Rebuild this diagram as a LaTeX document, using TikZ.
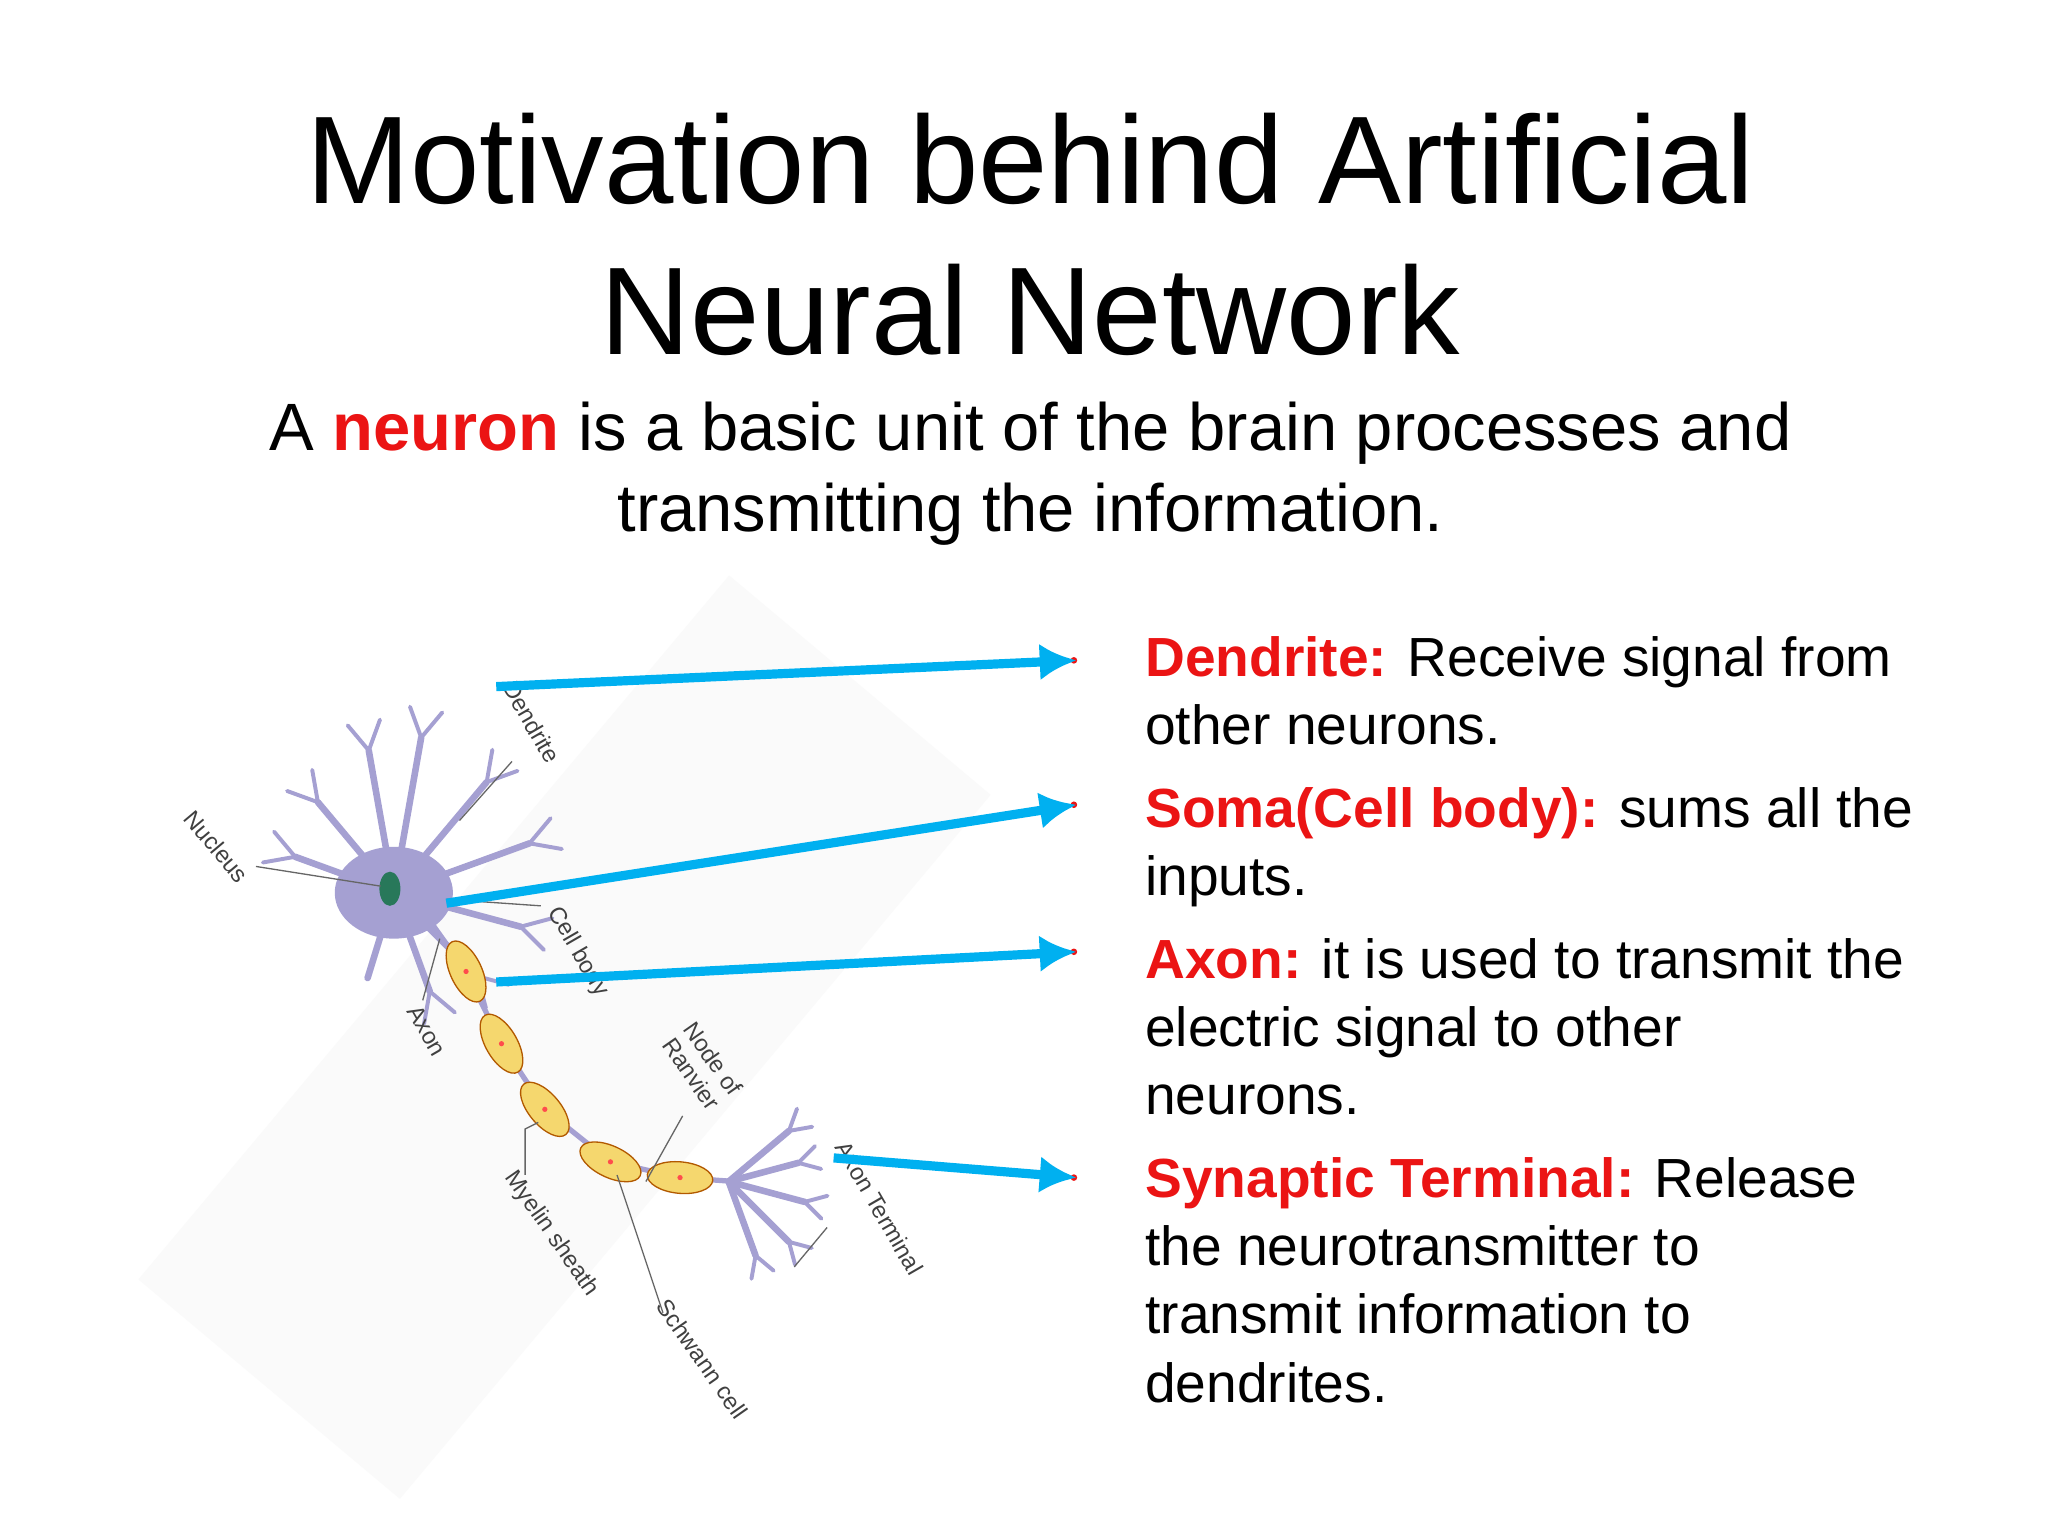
\documentclass[tikz,border=0pt]{standalone}
\usepackage{fontspec}
\setmainfont{Liberation Sans}
\usetikzlibrary{arrows.meta}
\definecolor{arr}{RGB}{0,176,240}
\definecolor{rd}{RGB}{235,20,20}
\definecolor{neu}{RGB}{165,160,210}
\definecolor{myel}{RGB}{245,215,110}
\definecolor{nuc}{RGB}{40,120,90}
\begin{document}
\begin{tikzpicture}[x=0.5pt,y=-0.5pt,
  ptr/.style={draw=arr,line width=3.5pt,-{Latex[length=14pt,width=14pt]}},
  bul/.style={anchor=base west,inner sep=0pt,font=\fontsize{21}{26}\selectfont},
  dend/.style={draw=neu,line width=2.5pt,line cap=round},
  lab/.style={font=\fontsize{9}{10}\selectfont,text=black!75},
  lead/.style={draw=black!60,line width=0.5pt}]
\useasboundingbox (0,0) rectangle (1560,1170);
\fill[white] (0,0) rectangle (1560,1170);
% title
\node[anchor=base,font=\fontsize{47.5}{58}\selectfont] (t1) at (785,155) {Motivation behind Artificial};
\node[anchor=base,font=\fontsize{47.5}{58}\selectfont] (t2) at (785,270) {Neural Network};
\node[anchor=base,font=\fontsize{25.5}{30}\selectfont] (s1) at (785,343) {A \textcolor{rd}{\textbf{neuron}} is a basic unit of the brain processes and};
\node[anchor=base,font=\fontsize{25.5}{30}\selectfont] (s2) at (785,405) {transmitting the information.};
% neuron picture background
\fill[black!2,rotate around={-40:(430,790)}] (300,440) rectangle (560,1140);
% dendrites
\foreach \a/\l in {100/120,130/110,160/110,195/100,225/90,250/80,80/110,50/90,20/80}{
  \draw[dend] (300,680) -- ++(\a+180:\l) coordinate (e);
  \draw[dend,line width=1.5pt] (e) -- ++(\a+210:25);
  \draw[dend,line width=1.5pt] (e) -- ++(\a+150:25);
}
\draw[dend] (300,680) -- (280,745);
\fill[neu] (300,680) ellipse (45 and 35);
\fill[nuc] (297,677) ellipse (8 and 13);
% axon
\draw[draw=neu,line width=2pt] (330,705) -- (355,740) -- (382,795) -- (415,845) -- (465,885) -- (518,897) -- (560,900);
\foreach \x/\y/\r in {355/740/-65,382/795/-60,415/845/-50,465/885/-25,518/897/-5}{
  \fill[myel,draw=orange!70!black,line width=0.5pt,rotate around={\r:(\x,\y)}] (\x,\y) ellipse (25 and 12);
  \fill[red!70] (\x,\y) circle (2);
}
% terminal
\foreach \a/\l in {-40/60,-15/55,15/60,45/65,70/60}{
  \draw[dend] (555,900) -- ++(\a:\l) coordinate (e);
  \draw[dend,line width=1.5pt] (e) -- ++(\a+30:18);
  \draw[dend,line width=1.5pt] (e) -- ++(\a-30:18);
}
% labels
\node[lab,rotate=-60] (ld) at (405,550) {Dendrite};
\draw[lead] (390,580) -- (350,625);
\node[lab,rotate=-50] (ln) at (165,645) {Nucleus};
\draw[lead] (195,660) -- (290,675);
\node[lab,rotate=-60] (lc) at (440,725) {Cell body};
\draw[lead] (412,690) -- (340,685);
\node[lab,rotate=-60] (la) at (325,785) {Axon};
\draw[lead] (322,762) -- (335,715);
\node[lab,rotate=-55,align=center] (lr) at (535,812) {Node of\\Ranvier};
\draw[lead] (520,850) -- (492,900);
\node[lab,rotate=-60] (lt) at (670,920) {Axon Terminal};
\draw[lead] (630,935) -- (605,965);
\node[lab,rotate=-55] (lm) at (420,940) {Myelin sheath};
\draw[lead] (400,895) -- (400,860) -- (410,855);
\node[lab,rotate=-55] (ls) at (535,1035) {Schwann cell};
\draw[lead] (505,1000) -- (470,895);
% bullets
\foreach \y in {503,613,725,897}{\fill[rd] (818,\y) circle (2.5);}
\node[bul] (b1a) at (872,515) {\textcolor{rd}{\textbf{Dendrite:}} Receive signal from};
\node[bul] (b1b) at (872,567) {other neurons.};
\node[bul] (b2a) at (872,630) {\textcolor{rd}{\textbf{Soma(Cell body):}} sums all the};
\node[bul] (b2b) at (872,682) {inputs.};
\node[bul] (b3a) at (872,745) {\textcolor{rd}{\textbf{Axon:}} it is used to transmit the};
\node[bul] (b3b) at (872,797) {electric signal to other};
\node[bul] (b3c) at (872,849) {neurons.};
\node[bul] (b4a) at (872,912) {\textcolor{rd}{\textbf{Synaptic Terminal:}} Release};
\node[bul] (b4b) at (872,964) {the neurotransmitter to};
\node[bul] (b4c) at (872,1016) {transmit information to};
\node[bul] (b4d) at (872,1068) {dendrites.};
% arrows
\coordinate (d0) at (378,523); \coordinate (d1) at (820,503);
\coordinate (c0) at (340,688); \coordinate (c1) at (820,613);
\coordinate (a0) at (378,748); \coordinate (a1) at (820,725);
\coordinate (s0) at (635,882); \coordinate (s1e) at (820,897);
\draw[ptr] (d0) -- (d1);
\draw[ptr] (c0) -- (c1);
\draw[ptr] (a0) -- (a1);
\draw[ptr] (s0) -- (s1e);
\end{tikzpicture}
\end{document}
